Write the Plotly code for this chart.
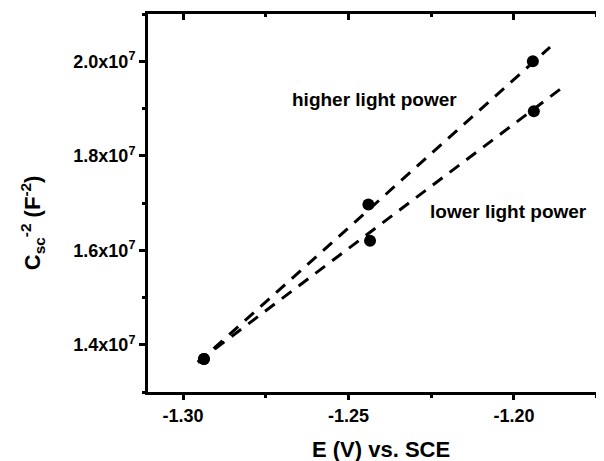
import plotly.graph_objects as go

# measured points, E (V) vs. SCE and C_sc^-2 (F^-2)
e_high = [-1.2937, -1.2440, -1.1943]
c_high = [1.370e7, 1.697e7, 2.000e7]
e_low = [-1.2937, -1.2435, -1.1940]
c_low = [1.370e7, 1.620e7, 1.894e7]

# dashed linear fit end points
fit_e_high = [-1.2955, -1.1891]
fit_c_high = [1.362e7, 2.030e7]
fit_e_low = [-1.2955, -1.1861]
fit_c_low = [1.364e7, 1.9406e7]

x_ticks = [-1.30, -1.25, -1.20]
x_labels = ["<b>-1.30</b>", "<b>-1.25</b>", "<b>-1.20</b>"]
y_ticks = [1.4e7, 1.6e7, 1.8e7, 2.0e7]
y_labels = ["<b>1.4x10<sup>7</sup></b>", "<b>1.6x10<sup>7</sup></b>",
            "<b>1.8x10<sup>7</sup></b>", "<b>2.0x10<sup>7</sup></b>"]

FONT = "Liberation Sans, Arial, sans-serif"
x_range = [-1.3106, -1.1728]

fig = go.Figure()

fig.add_trace(go.Scatter(x=fit_e_high, y=fit_c_high, mode="lines",
                         line=dict(color="black", width=3, dash="12px,9px"), showlegend=False))
fig.add_trace(go.Scatter(x=fit_e_low, y=fit_c_low, mode="lines",
                         line=dict(color="black", width=3, dash="12px,9px"), showlegend=False))
fig.add_trace(go.Scatter(x=e_high, y=c_high, mode="markers",
                         marker=dict(color="black", size=12), showlegend=False))
fig.add_trace(go.Scatter(x=e_low, y=c_low, mode="markers",
                         marker=dict(color="black", size=12), showlegend=False))
# invisible trace to hold the top axis
fig.add_trace(go.Scatter(x=x_range, y=[None, None], xaxis="x2", showlegend=False,
                         hoverinfo="skip"))

axis_common = dict(showgrid=False, zeroline=False, showline=True, linecolor="black",
                   linewidth=3, tickcolor="black", tickwidth=3)
tick_font = dict(family=FONT, size=18, color="black")

# page body has an 8px margin, so the figure is 8px smaller than the window
fig.update_layout(
    width=596, height=453,
    margin=dict(l=140, r=0, t=6, b=69),
    plot_bgcolor="white", paper_bgcolor="white",
    xaxis=dict(range=x_range, tickvals=x_ticks, ticktext=x_labels,
               ticks="outside", ticklen=5, tickfont=tick_font,
               minor=dict(dtick=0.05, tick0=-1.275, ticks="outside", ticklen=3,
                          tickwidth=3, tickcolor="black"),
               **axis_common),
    xaxis2=dict(range=x_range, overlaying="x", side="top", tickvals=x_ticks,
                showticklabels=False, ticks="inside", ticklen=6,
                minor=dict(dtick=0.05, tick0=-1.275, ticks="inside", ticklen=3,
                           tickwidth=3, tickcolor="black"),
                **axis_common),
    yaxis=dict(range=[1.3e7, 2.1e7], tickvals=y_ticks, ticktext=y_labels,
               ticks="outside", ticklen=6, tickfont=tick_font,
               minor=dict(dtick=2e6, tick0=1.5e7, ticks="outside", ticklen=3,
                          tickwidth=3, tickcolor="black"),
               **axis_common),
)

ann_font = dict(family=FONT, size=19, color="black")
fig.add_annotation(text="<b>higher light power</b>", x=-1.2677, y=1.919e7, xref="x", yref="y",
                   xanchor="left", yanchor="middle", showarrow=False, font=ann_font)
fig.add_annotation(text="<b>lower light power</b>", x=-1.226, y=1.682e7, xref="x", yref="y",
                   xanchor="left", yanchor="middle", showarrow=False, font=ann_font)

title_font = dict(family=FONT, size=22, color="black")
fig.add_annotation(text="<b>E (V) vs. SCE</b>", x=0.511, y=-0.153, xref="paper", yref="paper",
                   xanchor="center", yanchor="middle", showarrow=False, font=title_font)
fig.add_annotation(text="<b>C<sub>sc</sub><sup>-2</sup> (F<sup>-2</sup>)</b>", textangle=-90,
                   x=-0.254, y=0.447, xref="paper", yref="paper",
                   xanchor="center", yanchor="middle", showarrow=False, font=title_font)

fig.write_html("out.html")
